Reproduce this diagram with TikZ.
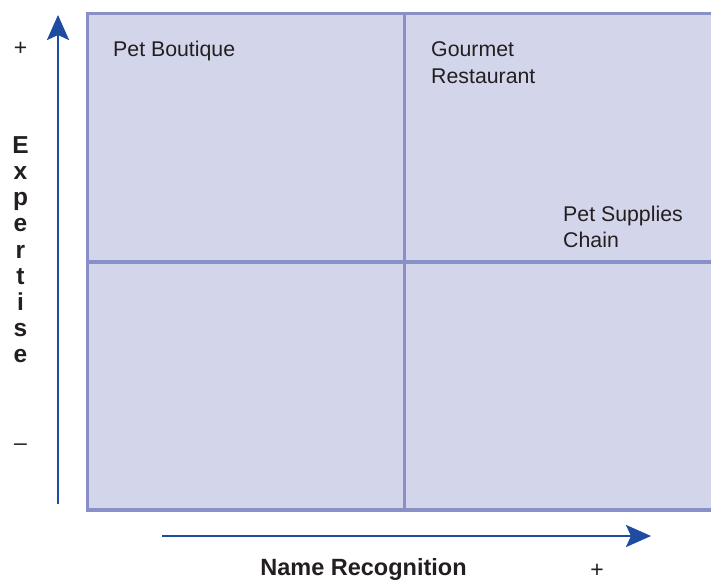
\documentclass[tikz,border=0pt]{standalone}
\usepackage{fontspec}
\setmainfont{Liberation Sans}
\usetikzlibrary{arrows.meta}
\definecolor{gridfill}{HTML}{D3D5EA}
\definecolor{gridline}{HTML}{8990C8}
\definecolor{axisblue}{HTML}{1F4BA0}
\definecolor{txt}{HTML}{231F20}
\tikzset{
  cell/.style={line width=3.6pt, draw=gridline},
  axis/.style={line width=2.7pt, draw=axisblue, -{Stealth[length=25pt,width=22pt,inset=5pt,fill=axisblue]}},
  lbl/.style={anchor=base west, inner sep=0pt, font=\fontsize{21.3}{27}\selectfont, text=txt},
  sign/.style={inner sep=0pt, font=\fontsize{23}{26}\selectfont, text=txt},
  axlbl/.style={inner sep=0pt, font=\fontsize{23.5}{26}\selectfont\bfseries, text=txt},
  exlbl/.style={inner sep=0pt, font=\fontsize{24.5}{26}\selectfont\bfseries, text=txt},
}
\begin{document}
\begin{tikzpicture}[x=1pt,y=-1pt]
\useasboundingbox (0,0) rectangle (711,581);
% grid
\fill[gridfill] (87.5,13.5) rectangle (711,510);
\draw[cell] (711,13.5) -- (87.5,13.5) -- (87.5,510) -- (711,510);
\draw[cell] (404.5,13.5) -- (404.5,510);
\draw[cell] (87.5,262) -- (711,262);
% quadrant labels
\node[lbl] (boutique) at (113,56) {Pet Boutique};
\node[lbl] (gourmet) at (431,56) {Gourmet};
\node[lbl] (restaurant) at (431,83) {Restaurant};
\node[lbl] (supplies) at (563,221.5) {Pet Supplies};
\node[lbl] (chain) at (563,247.5) {Chain};
% axes
\coordinate (ybot) at (58,504);
\coordinate (ytop) at (58,15);
\coordinate (xleft) at (162,536);
\coordinate (xright) at (651,536);
\draw[axis] (ybot) -- (ytop);
\draw[axis] (xleft) -- (xright);
% signs
\node[sign] (yplus) at (20.5,48.5) {+};
\node[sign] (yminus) at (20.5,446.7) {–};
\node[sign] (xplus) at (597,570.5) {+};
% axis labels
\node[axlbl, anchor=base] (xlabel) at (363.5,575) {Name Recognition};
\foreach \ch [count=\i from 0] in {E,x,p,e,r,t,i,s,e}{
  \node[exlbl, anchor=base] (ex\i) at (20.5,{153.3+26.2*\i}) {\ch};
}
\end{tikzpicture}
\end{document}
